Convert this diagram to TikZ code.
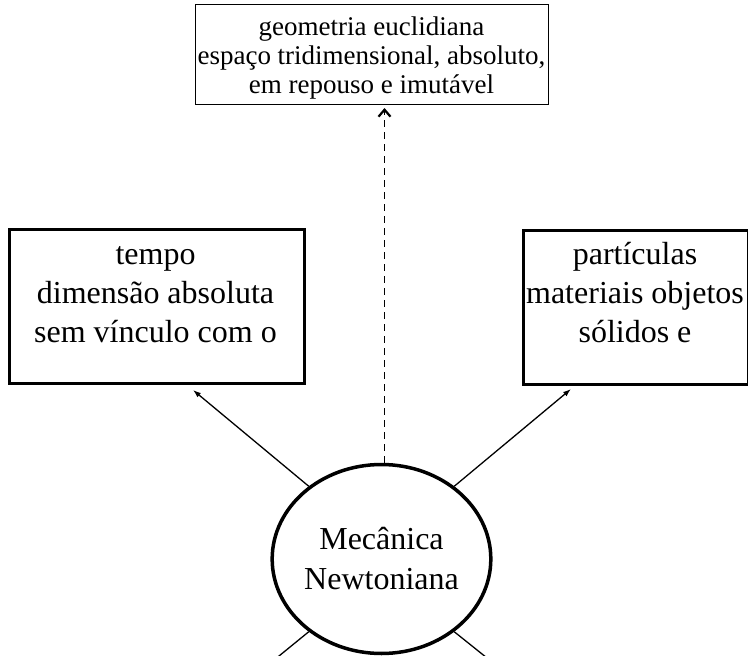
\documentclass[tikz,border=0pt]{standalone}
\usepackage{fontspec}
\setmainfont{Liberation Serif}
\usetikzlibrary{arrows.meta,shapes.geometric}
\tikzset{
  thinbox/.style={draw, line width=1.4pt, inner sep=0pt},
  thickbox/.style={draw, line width=3pt, inner sep=0pt},
  bigtxt/.style={inner sep=0pt, align=center, font=\fontsize{32}{39}\selectfont},
  smalltxt/.style={inner sep=0pt, align=center, font=\fontsize{27}{29}\selectfont},
  conn/.style={line width=1.3pt, -{Latex[length=8pt,width=5.5pt]}},
  dconn/.style={line width=1.7pt, dash pattern=on 7pt off 5pt, -{Straight Barb[length=7pt,width=12pt,line width=2.2pt]}},
  plain/.style={line width=1.3pt}
}
\begin{document}
\begin{tikzpicture}[x=1pt,y=-1pt]
\clip (0,0) rectangle (748,656);
% top box
\node[thinbox, anchor=north west, minimum width=353pt, minimum height=100pt] (geo) at (195,3.5) {};
\node[smalltxt, anchor=base] (geotxt) at (371.5,93) {geometria euclidiana\\espaço tridimensional, absoluto,\\em repouso e imutável};
% left box
\node[thickbox, anchor=north west, minimum width=295pt, minimum height=154pt] (tempo) at (8,228) {};
\node[bigtxt, anchor=base] (tempotxt) at (155.5,342) {tempo\\dimensão absoluta\\sem vínculo com o};
% right box
\node[thickbox, anchor=north west, minimum width=225pt, minimum height=154pt] (part) at (522,229) {};
\node[bigtxt, anchor=base] (parttxt) at (635,342) {partículas\\materiais objetos\\sólidos e};
% central ellipse
\node[ellipse, draw, line width=3.5pt, inner sep=0pt, minimum width=210pt, minimum height=189pt, font=\fontsize{32}{40}\selectfont, align=center] (mec) at (381.5,559) {Mecânica\\Newtoniana};
% connector ends
\coordinate (tl) at (193,390);
\coordinate (tr) at (571,389);
\coordinate (dt) at (384.5,108);
\coordinate (bl) at (252,678);
\coordinate (br) at (512,678);
\draw[conn] (mec.135) -- (tl);
\draw[conn] (mec.45) -- (tr);
\draw[dconn] (dt |- mec.north) -- (dt);
\draw[plain] (mec.225) -- (bl);
\draw[plain] (mec.-45) -- (br);
\end{tikzpicture}
\end{document}
